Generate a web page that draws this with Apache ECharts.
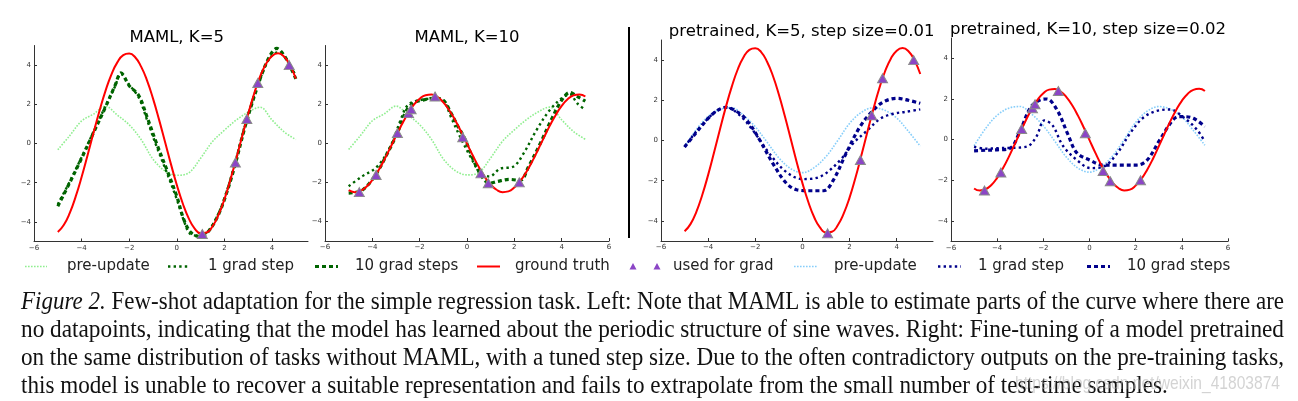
<!DOCTYPE html>
<html><head><meta charset="utf-8">
<script src="https://cdn.jsdelivr.net/npm/echarts@6/dist/echarts.min.js"></script>
<style>html,body{margin:0;padding:0;background:#fff}#c{width:1298px;height:401px}</style>
</head><body><div id="c"></div>
<script>
// ---------- data ----------
const xs = [-5,-4.5,-4,-3.5,-3,-2.5,-2,-1.5,-1,-0.5,0,0.5,1,1.5,2,2.5,3,3.5,4,4.5,5];
const xsFine = [-5,-4.75,-4.5,-4.25,-4,-3.75,-3.5,-3.25,-3,-2.75,-2.5,-2.25,-2,-1.75,-1.5,-1.25,-1,-0.75,-0.5,-0.25,0,0.25,0.5,0.75,1,1.25,1.5,1.75,2,2.25,2.5,2.75,3,3.25,3.5,3.75,4,4.25,4.5,4.75,5];
const truthK5  = [-4.52,-4.16,-3.55,-2.71,-1.71,-0.60,0.55,1.66,2.67,3.52,4.14,4.51,4.59,4.40,3.92,3.21,2.29,1.23,0.10,-1.04,-2.12,-3.06,-3.82,-4.34,-4.58,-4.54,-4.22,-3.64,-2.84,-1.85,-0.75,0.40,1.52,2.55,3.42,4.07,4.47,4.60,4.44,4.00,3.31];
const truthK10 = [-2.40,-2.50,-2.44,-2.23,-1.88,-1.41,-0.86,-0.25,0.37,0.97,1.51,1.96,2.28,2.46,2.49,2.37,2.09,1.69,1.18,0.60,-0.02,-0.64,-1.22,-1.72,-2.11,-2.38,-2.50,-2.46,-2.26,-1.93,-1.48,-0.94,-0.33,0.29,0.90,1.45,1.91,2.25,2.45,2.50,2.39];
const preMAML  = [-0.32,0.4,1.15,1.5,1.9,1.45,0.95,0.2,-0.8,-1.4,-1.62,-1.5,-0.75,0.1,0.68,1.2,1.6,1.85,1.2,0.6,0.2];
const prePretrained = [-0.3,0.55,1.2,1.55,1.63,1.25,0.68,-0.08,-0.86,-1.4,-1.6,-1.35,-0.8,0.0,0.85,1.4,1.63,1.5,1.12,0.45,-0.28];

const mamlK5Step1 = [[-5,-3.1],[-4.5,-1.95],[-4,-0.7],[-3.5,0.6],[-3,1.9],[-2.6,2.9],[-2.35,3.55],[-2.0,3.0],[-1.6,2.35],[-1.25,1.2],[-0.85,-0.15],[-0.4,-1.55],[0,-2.85],[0.3,-3.95],[0.55,-4.6],[0.9,-4.7],[1.3,-4.5],[1.7,-3.7],[2.0,-2.8],[2.4,-1.2],[2.9,1.1],[3.5,3.3],[3.9,4.35],[4.25,4.65],[4.5,4.45],[4.75,4.0],[5,3.45]];
const mamlK5Step10 = [[-5,-3.2],[-4.5,-2.0],[-4,-0.75],[-3.5,0.55],[-3,1.85],[-2.6,2.95],[-2.35,3.6],[-2.0,2.95],[-1.6,2.45],[-1.25,1.35],[-0.85,0.0],[-0.4,-1.4],[0,-2.7],[0.3,-3.9],[0.6,-4.55],[1.0,-4.75],[1.35,-4.45],[1.7,-3.75],[2.0,-2.85],[2.4,-1.3],[2.9,1.0],[3.5,3.3],[3.9,4.45],[4.2,4.85],[4.5,4.5],[4.75,3.95],[5,3.3]];
const mamlK10Step1 = [[-5,-2.2],[-4.5,-1.75],[-3.8,-1.2],[-3.25,-0.2],[-2.8,1.2],[-2.5,1.95],[-2.0,2.2],[-1.3,2.3],[-0.95,2.1],[-0.7,1.4],[-0.3,0.35],[0.15,-0.7],[0.55,-1.5],[0.95,-1.7],[1.4,-1.3],[1.95,-1.2],[2.4,-0.5],[2.95,0.7],[3.5,1.7],[4.05,2.35],[4.35,2.5],[4.65,2.05],[5,1.7]];
const mamlK10Step10 = [[-5,-2.55],[-4.5,-2.45],[-4.2,-2.15],[-3.8,-1.5],[-3.4,-0.6],[-2.95,0.5],[-2.55,1.7],[-2.2,2.1],[-1.9,2.2],[-1.4,2.3],[-1.0,2.2],[-0.7,1.6],[-0.4,0.9],[-0.1,0.25],[0.25,-0.8],[0.6,-1.65],[0.95,-2.05],[1.3,-1.95],[1.8,-1.85],[2.25,-1.9],[2.6,-1.2],[3.1,0.0],[3.6,1.3],[4.0,2.2],[4.35,2.6],[4.65,2.4],[5,2.15]];
const preK5Step1 = [[-5,-0.32],[-4.5,0.45],[-4,1.1],[-3.6,1.5],[-3.2,1.64],[-2.7,1.3],[-2.1,0.5],[-1.4,-0.65],[-0.7,-1.55],[0,-1.92],[0.75,-1.8],[1.6,-0.98],[2.15,-0.15],[2.75,0.5],[3.3,1.08],[3.85,1.33],[4.4,1.43],[5,1.55]];
const preK5Step10 = [[-5,-0.32],[-4.5,0.4],[-4,1.1],[-3.6,1.5],[-3.25,1.65],[-2.8,1.45],[-2.35,1.0],[-1.8,0.0],[-1.25,-1.15],[-0.7,-2.1],[-0.25,-2.45],[0.3,-2.5],[0.9,-2.5],[1.3,-2.0],[1.85,-0.65],[2.45,0.7],[3.0,1.5],[3.45,1.93],[4.0,2.1],[4.5,2.0],[5,1.85]];
const preK10Step1 = [[-5,-0.35],[-4.5,-0.45],[-4,-0.42],[-3.3,-0.4],[-2.7,-0.34],[-2.3,0.15],[-1.95,0.95],[-1.6,0.7],[-1.15,-0.3],[-0.55,-1.0],[0.05,-1.4],[0.6,-1.33],[1.2,-0.67],[1.75,0.3],[2.35,1.1],[3.05,1.45],[3.5,1.48],[4.05,1.12],[4.65,0.5],[5,-0.1]];
const preK10Step10 = [[-5,-0.55],[-4.5,-0.52],[-4,-0.5],[-3.45,-0.43],[-3.0,0.45],[-2.55,1.6],[-2.15,1.95],[-1.85,2.0],[-1.4,1.45],[-0.95,0.3],[-0.55,-0.65],[0,-1.0],[0.6,-1.25],[1.2,-1.25],[2.05,-1.25],[2.5,-1.0],[3.05,0.0],[3.6,0.95],[3.85,1.13],[4.1,1.13],[4.5,1.05],[5,0.65]];

const pointsK5  = [[1.07,-4.62],[2.46,-0.97],[2.94,1.25],[3.40,3.09],[4.72,4.0]];
const pointsK10 = [[-4.55,-2.5],[-3.84,-1.62],[-2.94,0.52],[-2.47,1.54],[-2.36,1.74],[-1.35,2.39],[-0.18,0.31],[0.59,-1.54],[0.90,-2.05],[2.21,-2.0]];

const xTicks = [-6,-4,-2,0,2,4,6];
const yTicks = [-4,-2,0,2,4];
const titles = ['MAML, K=5','MAML, K=10','pretrained, K=5, step size=0.01','pretrained, K=10, step size=0.02'];
const legendNames = ['pre-update','1 grad step','10 grad steps','ground truth','used for grad','pre-update','1 grad step','10 grad steps'];
const captionLines = [
 ['Figure 2.',' Few-shot adaptation for the simple regression task. Left: Note that MAML is able to estimate parts of the curve where there are'],
 ['','no datapoints, indicating that the model has learned about the periodic structure of sine waves. Right: Fine-tuning of a model pretrained'],
 ['','on the same distribution of tasks without MAML, with a tuned step size. Due to the often contradictory outputs on the pre-training tasks,'],
 ['','this model is unable to recover a suitable representation and fails to extrapolate from the small number of test-time samples.']
];
const watermark = 'https://blog.csdn.net/weixin_41803874';

// ---------- layout / style ----------
const panels = [
 {grid:{left:34,top:45.5,width:274,height:196}, xMax:5.51, truth:truthK5, pre:preMAML, s1:mamlK5Step1, s10:mamlK5Step10, pts:pointsK5, c:'g', tx:176.7, ty:37.5},
 {grid:{left:325,top:45.5,width:284,height:195.5}, xMax:6, truth:truthK10, pre:preMAML, s1:mamlK10Step1, s10:mamlK10Step10, pts:pointsK10, c:'g', tx:467, ty:37.5},
 {grid:{left:661,top:40,width:272,height:201}, xMax:5.54, truth:truthK5, pre:prePretrained, s1:preK5Step1, s10:preK5Step10, pts:pointsK5, c:'b', tx:801.7, ty:31.5},
 {grid:{left:951,top:38,width:277,height:203.3}, xMax:6, truth:truthK10, pre:prePretrained, s1:preK10Step1, s10:preK10Step10, pts:pointsK10, c:'b', tx:1088, ty:30}
];
const COL = {
 g:{pre:'#90ee90', s1:'#006400', s10:'#006400'},
 b:{pre:'#87cefa', s1:'#00008b', s10:'#00008b'}
};
const RED = '#ff0000', TRI = '#8b45c6';
const ST = {
 pre:{width:1.6, type:[1.6,1.4]},
 s1:{width:2.4, type:[2.4,3.2]},
 s10:{width:3.2, type:[4,3]}
};
const fmt = v => v < 0 ? '\u2212' + Math.abs(v) : String(v);
const pair = (xv, ys) => xv.map((x,i)=>[x, ys[i]]);

const grids = [], xAxes = [], yAxes = [], series = [], graphics = [];
panels.forEach((p,i)=>{
  grids.push(Object.assign({containLabel:false}, p.grid));
  const xt = xTicks.filter(v => v <= p.xMax);
  xAxes.push({type:'value', gridIndex:i, min:-6, max:p.xMax,
    axisLine:{show:true, onZero:false, lineStyle:{color:'#333', width:1}},
    axisTick:{show:true, inside:true, length:3, customValues:xt, lineStyle:{color:'#333'}},
    axisLabel:{show:true, customValues:xt, fontSize:7, color:'#333', fontFamily:'DejaVu Sans', margin:3, formatter:fmt},
    splitLine:{show:false}});
  yAxes.push({type:'value', gridIndex:i, min:-5, max:5,
    axisLine:{show:true, onZero:false, lineStyle:{color:'#333', width:1}},
    axisTick:{show:true, inside:true, length:3, customValues:yTicks, lineStyle:{color:'#333'}},
    axisLabel:{show:true, customValues:yTicks, fontSize:7, color:'#333', fontFamily:'DejaVu Sans', margin:3, formatter:fmt},
    splitLine:{show:false}});
  const col = COL[p.c];
  const line = (name, data, color, st, z, sm) => ({type:'line', name, xAxisIndex:i, yAxisIndex:i, data,
    showSymbol:false, symbol:'none', smooth:sm, clip:true, z,
    lineStyle:{color, width:st.width, type:st.type, cap:'butt'}});
  series.push(line('pre-update', pair(xs, p.pre), col.pre, ST.pre, 2, 0.35));
  series.push(line('1 grad step', p.s1, col.s1, ST.s1, 3, 0.35));
  series.push(line('10 grad steps', p.s10, col.s10, ST.s10, 4, 0.35));
  series.push(line('ground truth', pair(xsFine, p.truth), RED, {width:2, type:'solid'}, 5, 0.5));
  series.push({type:'scatter', name:'used for grad', xAxisIndex:i, yAxisIndex:i, data:p.pts, z:6,
    symbol:'triangle', symbolSize:[10,9], itemStyle:{color:TRI, borderColor:'#8a8a8a', borderWidth:1, opacity:1}});
  graphics.push({type:'text', x:p.tx, y:p.ty, z:10, style:{text:titles[i], font:'16.5px "DejaVu Sans"', fill:'#000', align:'center', textAlign:'center', verticalAlign:'middle', textVerticalAlign:'middle'}});
});

// separator
graphics.push({type:'line', shape:{x1:629,y1:27,x2:629,y2:238}, style:{stroke:'#000', lineWidth:2}, z:10});

// legend (drawn as graphic)
const LY = 266.5;
const legendItems = [
 {kind:'line', color:COL.g.pre, st:ST.pre, x1:25, x2:47, tx:67},
 {kind:'line', color:COL.g.s1, st:ST.s1, x1:168, x2:190, tx:208},
 {kind:'line', color:COL.g.s10, st:ST.s10, x1:315, x2:338, tx:355},
 {kind:'line', color:RED, st:{width:2,type:[]}, x1:477, x2:500, tx:515},
 {kind:'tri', xsT:[633,657], tx:673},
 {kind:'line', color:COL.b.pre, st:ST.pre, x1:794, x2:817, tx:834},
 {kind:'line', color:COL.b.s1, st:ST.s1, x1:938, x2:961, tx:978},
 {kind:'line', color:COL.b.s10, st:ST.s10, x1:1087, x2:1110, tx:1127}
];
legendItems.forEach((it,k)=>{
  if (it.kind==='line') {
    graphics.push({type:'line', shape:{x1:it.x1,y1:LY,x2:it.x2,y2:LY}, style:{stroke:it.color, lineWidth:it.st.width, lineDash:it.st.type.length?it.st.type:null}});
  } else {
    it.xsT.forEach(cx=>graphics.push({type:'polygon', shape:{points:[[cx-3.5,LY+3],[cx+3.5,LY+3],[cx,LY-3.5]]}, style:{fill:TRI}}));
  }
  graphics.push({type:'text', x:it.tx, y:LY, style:{text:legendNames[k], font:'15px "DejaVu Sans"', fill:'#222', align:'left', textAlign:'left', verticalAlign:'middle', textVerticalAlign:'middle'}});
});

// caption, justified by horizontal scaling
const cv = document.createElement('canvas').getContext('2d');
const tw = (t,f)=>{cv.font=f; return cv.measureText(t).width;};
const FI = 'italic 26px "Liberation Serif"', FN = '26px "Liberation Serif"';
const capLeft = 21, capRight = 1284, capYs = [302,330,358,386];
let scales = [];
captionLines.forEach((ln,k)=>{
  const w = tw(ln[0],FI) + tw(ln[1],FN);
  scales.push((capRight-capLeft)/w);
});
scales[3] = (scales[0]+scales[1]+scales[2])/3;
captionLines.forEach((ln,k)=>{
  const s = scales[k], wi = ln[0] ? tw(ln[0],FI) : 0;
  if (ln[0]) graphics.push({type:'text', x:capLeft, y:capYs[k], scaleX:s, originX:0, style:{text:ln[0], font:FI, fill:'#111', align:'left', textAlign:'left', verticalAlign:'middle', textVerticalAlign:'middle'}});
  graphics.push({type:'text', x:capLeft + wi*s, y:capYs[k], scaleX:s, originX:0, style:{text:ln[1], font:FN, fill:'#111', align:'left', textAlign:'left', verticalAlign:'middle', textVerticalAlign:'middle'}});
});
const FW = '19px "Liberation Sans"';
graphics.push({type:'text', x:1015, y:384, scaleX:265/tw(watermark,FW), originX:0, z:20, style:{text:watermark, font:FW, fill:'rgba(175,175,175,0.55)', align:'left', textAlign:'left', verticalAlign:'middle', textVerticalAlign:'middle'}});

const chart = echarts.init(document.getElementById('c'), null, {renderer:'canvas'});
chart.setOption({
  backgroundColor:'#ffffff', animation:false,
  grid:grids, xAxis:xAxes, yAxis:yAxes, series, graphic:graphics
});
</script>
</body></html>
